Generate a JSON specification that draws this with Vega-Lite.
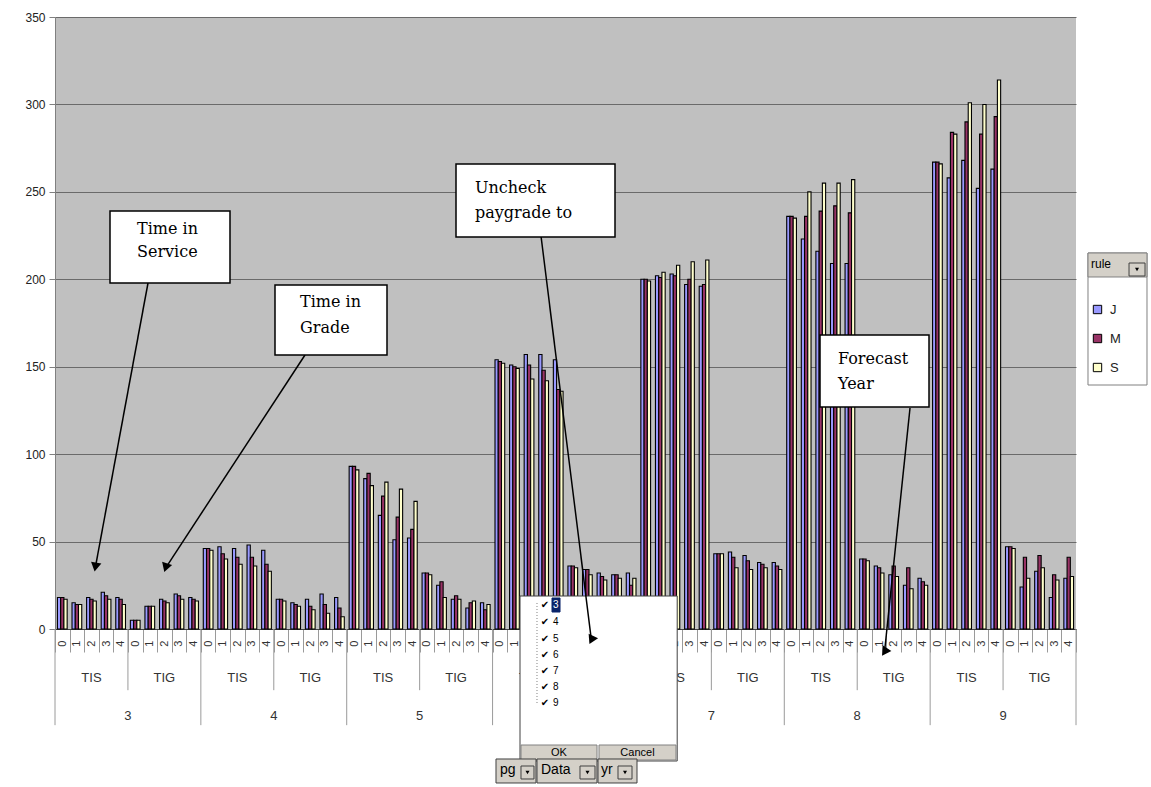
{
  "$schema": "https://vega.github.io/schema/vega-lite/v6.json",
  "width": 1021,
  "height": 612,
  "autosize": {"type": "none"},
  "padding": {"left": 55, "top": 17, "right": 75, "bottom": 158},
  "background": "white",
  "config": {
    "view": {"fill": "#c0c0c0", "stroke": null},
    "font": "Liberation Sans"
  },
  "datasets": {
    "bars": [
      {"pg":3,"Data":"TIS","yr":0,"rule":"J","v":18},{"pg":3,"Data":"TIS","yr":0,"rule":"M","v":18},{"pg":3,"Data":"TIS","yr":0,"rule":"S","v":17},
      {"pg":3,"Data":"TIS","yr":1,"rule":"J","v":15},{"pg":3,"Data":"TIS","yr":1,"rule":"M","v":14},{"pg":3,"Data":"TIS","yr":1,"rule":"S","v":14},
      {"pg":3,"Data":"TIS","yr":2,"rule":"J","v":18},{"pg":3,"Data":"TIS","yr":2,"rule":"M","v":17},{"pg":3,"Data":"TIS","yr":2,"rule":"S","v":16},
      {"pg":3,"Data":"TIS","yr":3,"rule":"J","v":21},{"pg":3,"Data":"TIS","yr":3,"rule":"M","v":19},{"pg":3,"Data":"TIS","yr":3,"rule":"S","v":17},
      {"pg":3,"Data":"TIS","yr":4,"rule":"J","v":18},{"pg":3,"Data":"TIS","yr":4,"rule":"M","v":17},{"pg":3,"Data":"TIS","yr":4,"rule":"S","v":14},
      {"pg":3,"Data":"TIG","yr":0,"rule":"J","v":5},{"pg":3,"Data":"TIG","yr":0,"rule":"M","v":5},{"pg":3,"Data":"TIG","yr":0,"rule":"S","v":5},
      {"pg":3,"Data":"TIG","yr":1,"rule":"J","v":13},{"pg":3,"Data":"TIG","yr":1,"rule":"M","v":13},{"pg":3,"Data":"TIG","yr":1,"rule":"S","v":13},
      {"pg":3,"Data":"TIG","yr":2,"rule":"J","v":17},{"pg":3,"Data":"TIG","yr":2,"rule":"M","v":16},{"pg":3,"Data":"TIG","yr":2,"rule":"S","v":15},
      {"pg":3,"Data":"TIG","yr":3,"rule":"J","v":20},{"pg":3,"Data":"TIG","yr":3,"rule":"M","v":19},{"pg":3,"Data":"TIG","yr":3,"rule":"S","v":17},
      {"pg":3,"Data":"TIG","yr":4,"rule":"J","v":18},{"pg":3,"Data":"TIG","yr":4,"rule":"M","v":17},{"pg":3,"Data":"TIG","yr":4,"rule":"S","v":16},
      {"pg":4,"Data":"TIS","yr":0,"rule":"J","v":46},{"pg":4,"Data":"TIS","yr":0,"rule":"M","v":46},{"pg":4,"Data":"TIS","yr":0,"rule":"S","v":45},
      {"pg":4,"Data":"TIS","yr":1,"rule":"J","v":47},{"pg":4,"Data":"TIS","yr":1,"rule":"M","v":43},{"pg":4,"Data":"TIS","yr":1,"rule":"S","v":40},
      {"pg":4,"Data":"TIS","yr":2,"rule":"J","v":46},{"pg":4,"Data":"TIS","yr":2,"rule":"M","v":41},{"pg":4,"Data":"TIS","yr":2,"rule":"S","v":37},
      {"pg":4,"Data":"TIS","yr":3,"rule":"J","v":48},{"pg":4,"Data":"TIS","yr":3,"rule":"M","v":41},{"pg":4,"Data":"TIS","yr":3,"rule":"S","v":36},
      {"pg":4,"Data":"TIS","yr":4,"rule":"J","v":45},{"pg":4,"Data":"TIS","yr":4,"rule":"M","v":37},{"pg":4,"Data":"TIS","yr":4,"rule":"S","v":33},
      {"pg":4,"Data":"TIG","yr":0,"rule":"J","v":17},{"pg":4,"Data":"TIG","yr":0,"rule":"M","v":17},{"pg":4,"Data":"TIG","yr":0,"rule":"S","v":16},
      {"pg":4,"Data":"TIG","yr":1,"rule":"J","v":15},{"pg":4,"Data":"TIG","yr":1,"rule":"M","v":14},{"pg":4,"Data":"TIG","yr":1,"rule":"S","v":13},
      {"pg":4,"Data":"TIG","yr":2,"rule":"J","v":17},{"pg":4,"Data":"TIG","yr":2,"rule":"M","v":13},{"pg":4,"Data":"TIG","yr":2,"rule":"S","v":11},
      {"pg":4,"Data":"TIG","yr":3,"rule":"J","v":20},{"pg":4,"Data":"TIG","yr":3,"rule":"M","v":14},{"pg":4,"Data":"TIG","yr":3,"rule":"S","v":9},
      {"pg":4,"Data":"TIG","yr":4,"rule":"J","v":18},{"pg":4,"Data":"TIG","yr":4,"rule":"M","v":12},{"pg":4,"Data":"TIG","yr":4,"rule":"S","v":7},
      {"pg":5,"Data":"TIS","yr":0,"rule":"J","v":93},{"pg":5,"Data":"TIS","yr":0,"rule":"M","v":93},{"pg":5,"Data":"TIS","yr":0,"rule":"S","v":91},
      {"pg":5,"Data":"TIS","yr":1,"rule":"J","v":86},{"pg":5,"Data":"TIS","yr":1,"rule":"M","v":89},{"pg":5,"Data":"TIS","yr":1,"rule":"S","v":82},
      {"pg":5,"Data":"TIS","yr":2,"rule":"J","v":65},{"pg":5,"Data":"TIS","yr":2,"rule":"M","v":76},{"pg":5,"Data":"TIS","yr":2,"rule":"S","v":84},
      {"pg":5,"Data":"TIS","yr":3,"rule":"J","v":51},{"pg":5,"Data":"TIS","yr":3,"rule":"M","v":64},{"pg":5,"Data":"TIS","yr":3,"rule":"S","v":80},
      {"pg":5,"Data":"TIS","yr":4,"rule":"J","v":52},{"pg":5,"Data":"TIS","yr":4,"rule":"M","v":57},{"pg":5,"Data":"TIS","yr":4,"rule":"S","v":73},
      {"pg":5,"Data":"TIG","yr":0,"rule":"J","v":32},{"pg":5,"Data":"TIG","yr":0,"rule":"M","v":32},{"pg":5,"Data":"TIG","yr":0,"rule":"S","v":31},
      {"pg":5,"Data":"TIG","yr":1,"rule":"J","v":25},{"pg":5,"Data":"TIG","yr":1,"rule":"M","v":27},{"pg":5,"Data":"TIG","yr":1,"rule":"S","v":18},
      {"pg":5,"Data":"TIG","yr":2,"rule":"J","v":17},{"pg":5,"Data":"TIG","yr":2,"rule":"M","v":19},{"pg":5,"Data":"TIG","yr":2,"rule":"S","v":17},
      {"pg":5,"Data":"TIG","yr":3,"rule":"J","v":12},{"pg":5,"Data":"TIG","yr":3,"rule":"M","v":15},{"pg":5,"Data":"TIG","yr":3,"rule":"S","v":16},
      {"pg":5,"Data":"TIG","yr":4,"rule":"J","v":15},{"pg":5,"Data":"TIG","yr":4,"rule":"M","v":11},{"pg":5,"Data":"TIG","yr":4,"rule":"S","v":14},
      {"pg":6,"Data":"TIS","yr":0,"rule":"J","v":154},{"pg":6,"Data":"TIS","yr":0,"rule":"M","v":153},{"pg":6,"Data":"TIS","yr":0,"rule":"S","v":152},
      {"pg":6,"Data":"TIS","yr":1,"rule":"J","v":151},{"pg":6,"Data":"TIS","yr":1,"rule":"M","v":150},{"pg":6,"Data":"TIS","yr":1,"rule":"S","v":149},
      {"pg":6,"Data":"TIS","yr":2,"rule":"J","v":157},{"pg":6,"Data":"TIS","yr":2,"rule":"M","v":151},{"pg":6,"Data":"TIS","yr":2,"rule":"S","v":143},
      {"pg":6,"Data":"TIS","yr":3,"rule":"J","v":157},{"pg":6,"Data":"TIS","yr":3,"rule":"M","v":148},{"pg":6,"Data":"TIS","yr":3,"rule":"S","v":142},
      {"pg":6,"Data":"TIS","yr":4,"rule":"J","v":154},{"pg":6,"Data":"TIS","yr":4,"rule":"M","v":137},{"pg":6,"Data":"TIS","yr":4,"rule":"S","v":136},
      {"pg":6,"Data":"TIG","yr":0,"rule":"J","v":36},{"pg":6,"Data":"TIG","yr":0,"rule":"M","v":36},{"pg":6,"Data":"TIG","yr":0,"rule":"S","v":35},
      {"pg":6,"Data":"TIG","yr":1,"rule":"J","v":34},{"pg":6,"Data":"TIG","yr":1,"rule":"M","v":34},{"pg":6,"Data":"TIG","yr":1,"rule":"S","v":31},
      {"pg":6,"Data":"TIG","yr":2,"rule":"J","v":32},{"pg":6,"Data":"TIG","yr":2,"rule":"M","v":30},{"pg":6,"Data":"TIG","yr":2,"rule":"S","v":28},
      {"pg":6,"Data":"TIG","yr":3,"rule":"J","v":31},{"pg":6,"Data":"TIG","yr":3,"rule":"M","v":31},{"pg":6,"Data":"TIG","yr":3,"rule":"S","v":29},
      {"pg":6,"Data":"TIG","yr":4,"rule":"J","v":32},{"pg":6,"Data":"TIG","yr":4,"rule":"M","v":25},{"pg":6,"Data":"TIG","yr":4,"rule":"S","v":29},
      {"pg":7,"Data":"TIS","yr":0,"rule":"J","v":200},{"pg":7,"Data":"TIS","yr":0,"rule":"M","v":200},{"pg":7,"Data":"TIS","yr":0,"rule":"S","v":199},
      {"pg":7,"Data":"TIS","yr":1,"rule":"J","v":202},{"pg":7,"Data":"TIS","yr":1,"rule":"M","v":201},{"pg":7,"Data":"TIS","yr":1,"rule":"S","v":204},
      {"pg":7,"Data":"TIS","yr":2,"rule":"J","v":203},{"pg":7,"Data":"TIS","yr":2,"rule":"M","v":202},{"pg":7,"Data":"TIS","yr":2,"rule":"S","v":208},
      {"pg":7,"Data":"TIS","yr":3,"rule":"J","v":197},{"pg":7,"Data":"TIS","yr":3,"rule":"M","v":200},{"pg":7,"Data":"TIS","yr":3,"rule":"S","v":210},
      {"pg":7,"Data":"TIS","yr":4,"rule":"J","v":196},{"pg":7,"Data":"TIS","yr":4,"rule":"M","v":197},{"pg":7,"Data":"TIS","yr":4,"rule":"S","v":211},
      {"pg":7,"Data":"TIG","yr":0,"rule":"J","v":43},{"pg":7,"Data":"TIG","yr":0,"rule":"M","v":43},{"pg":7,"Data":"TIG","yr":0,"rule":"S","v":43},
      {"pg":7,"Data":"TIG","yr":1,"rule":"J","v":44},{"pg":7,"Data":"TIG","yr":1,"rule":"M","v":41},{"pg":7,"Data":"TIG","yr":1,"rule":"S","v":35},
      {"pg":7,"Data":"TIG","yr":2,"rule":"J","v":42},{"pg":7,"Data":"TIG","yr":2,"rule":"M","v":39},{"pg":7,"Data":"TIG","yr":2,"rule":"S","v":34},
      {"pg":7,"Data":"TIG","yr":3,"rule":"J","v":38},{"pg":7,"Data":"TIG","yr":3,"rule":"M","v":37},{"pg":7,"Data":"TIG","yr":3,"rule":"S","v":35},
      {"pg":7,"Data":"TIG","yr":4,"rule":"J","v":38},{"pg":7,"Data":"TIG","yr":4,"rule":"M","v":36},{"pg":7,"Data":"TIG","yr":4,"rule":"S","v":34},
      {"pg":8,"Data":"TIS","yr":0,"rule":"J","v":236},{"pg":8,"Data":"TIS","yr":0,"rule":"M","v":236},{"pg":8,"Data":"TIS","yr":0,"rule":"S","v":235},
      {"pg":8,"Data":"TIS","yr":1,"rule":"J","v":223},{"pg":8,"Data":"TIS","yr":1,"rule":"M","v":236},{"pg":8,"Data":"TIS","yr":1,"rule":"S","v":250},
      {"pg":8,"Data":"TIS","yr":2,"rule":"J","v":216},{"pg":8,"Data":"TIS","yr":2,"rule":"M","v":239},{"pg":8,"Data":"TIS","yr":2,"rule":"S","v":255},
      {"pg":8,"Data":"TIS","yr":3,"rule":"J","v":209},{"pg":8,"Data":"TIS","yr":3,"rule":"M","v":242},{"pg":8,"Data":"TIS","yr":3,"rule":"S","v":255},
      {"pg":8,"Data":"TIS","yr":4,"rule":"J","v":209},{"pg":8,"Data":"TIS","yr":4,"rule":"M","v":238},{"pg":8,"Data":"TIS","yr":4,"rule":"S","v":257},
      {"pg":8,"Data":"TIG","yr":0,"rule":"J","v":40},{"pg":8,"Data":"TIG","yr":0,"rule":"M","v":40},{"pg":8,"Data":"TIG","yr":0,"rule":"S","v":39},
      {"pg":8,"Data":"TIG","yr":1,"rule":"J","v":36},{"pg":8,"Data":"TIG","yr":1,"rule":"M","v":35},{"pg":8,"Data":"TIG","yr":1,"rule":"S","v":32},
      {"pg":8,"Data":"TIG","yr":2,"rule":"J","v":31},{"pg":8,"Data":"TIG","yr":2,"rule":"M","v":36},{"pg":8,"Data":"TIG","yr":2,"rule":"S","v":30},
      {"pg":8,"Data":"TIG","yr":3,"rule":"J","v":25},{"pg":8,"Data":"TIG","yr":3,"rule":"M","v":35},{"pg":8,"Data":"TIG","yr":3,"rule":"S","v":23},
      {"pg":8,"Data":"TIG","yr":4,"rule":"J","v":29},{"pg":8,"Data":"TIG","yr":4,"rule":"M","v":27},{"pg":8,"Data":"TIG","yr":4,"rule":"S","v":25},
      {"pg":9,"Data":"TIS","yr":0,"rule":"J","v":267},{"pg":9,"Data":"TIS","yr":0,"rule":"M","v":267},{"pg":9,"Data":"TIS","yr":0,"rule":"S","v":266},
      {"pg":9,"Data":"TIS","yr":1,"rule":"J","v":258},{"pg":9,"Data":"TIS","yr":1,"rule":"M","v":284},{"pg":9,"Data":"TIS","yr":1,"rule":"S","v":283},
      {"pg":9,"Data":"TIS","yr":2,"rule":"J","v":268},{"pg":9,"Data":"TIS","yr":2,"rule":"M","v":290},{"pg":9,"Data":"TIS","yr":2,"rule":"S","v":301},
      {"pg":9,"Data":"TIS","yr":3,"rule":"J","v":252},{"pg":9,"Data":"TIS","yr":3,"rule":"M","v":283},{"pg":9,"Data":"TIS","yr":3,"rule":"S","v":300},
      {"pg":9,"Data":"TIS","yr":4,"rule":"J","v":263},{"pg":9,"Data":"TIS","yr":4,"rule":"M","v":293},{"pg":9,"Data":"TIS","yr":4,"rule":"S","v":314},
      {"pg":9,"Data":"TIG","yr":0,"rule":"J","v":47},{"pg":9,"Data":"TIG","yr":0,"rule":"M","v":47},{"pg":9,"Data":"TIG","yr":0,"rule":"S","v":46},
      {"pg":9,"Data":"TIG","yr":1,"rule":"J","v":24},{"pg":9,"Data":"TIG","yr":1,"rule":"M","v":41},{"pg":9,"Data":"TIG","yr":1,"rule":"S","v":29},
      {"pg":9,"Data":"TIG","yr":2,"rule":"J","v":33},{"pg":9,"Data":"TIG","yr":2,"rule":"M","v":42},{"pg":9,"Data":"TIG","yr":2,"rule":"S","v":35},
      {"pg":9,"Data":"TIG","yr":3,"rule":"J","v":18},{"pg":9,"Data":"TIG","yr":3,"rule":"M","v":31},{"pg":9,"Data":"TIG","yr":3,"rule":"S","v":28},
      {"pg":9,"Data":"TIG","yr":4,"rule":"J","v":29},{"pg":9,"Data":"TIG","yr":4,"rule":"M","v":41},{"pg":9,"Data":"TIG","yr":4,"rule":"S","v":30}
    ],
    "panels": [
      {"part":"popup","u":31.881,"u2":42.658,"v":18.87,"v2":-75.49},
      {"part":"button","u":31.949,"u2":37.16,"v":-66.34,"v2":-74.92},
      {"part":"button","u":37.297,"u2":42.576,"v":-66.34,"v2":-74.92},
      {"part":"field","u":30.235,"u2":32.977,"v":-74.34,"v2":-88.07},
      {"part":"field","u":33.046,"u2":37.16,"v":-74.34,"v2":-88.07},
      {"part":"field","u":37.229,"u2":39.903,"v":-74.34,"v2":-88.07},
      {"part":"drop","u":31.949,"u2":32.84,"v":-78.35,"v2":-85.78},
      {"part":"drop","u":35.994,"u2":37.023,"v":-78.35,"v2":-85.78},
      {"part":"drop","u":38.6,"u2":39.56,"v":-78.35,"v2":-85.78},
      {"part":"legendbox","u":70.822,"u2":74.867,"v":215.03,"v2":139.54},
      {"part":"legendhead","u":70.822,"u2":74.867,"v":215.03,"v2":201.31},
      {"part":"drop","u":73.635,"u2":74.732,"v":209.31,"v2":201.88},
      {"part":"sel","u":34.075,"u2":34.624,"v":17.73,"v2":9.72},
      {"part":"note","u":3.771,"u2":11.998,"v":239.05,"v2":197.88},
      {"part":"note","u":15.083,"u2":22.762,"v":196.73,"v2":156.7},
      {"part":"note","u":27.493,"u2":38.394,"v":265.93,"v2":224.18},
      {"part":"note","u":52.449,"u2":59.922,"v":168.14,"v2":126.96}
    ],
    "labels": [
      {"kind":"note","text":"Time in","u":5.622,"v":228.7},
      {"kind":"note","text":"Service","u":5.622,"v":215.6},
      {"kind":"note","text":"Time in","u":16.797,"v":187.0},
      {"kind":"note","text":"Grade","u":16.797,"v":172.1},
      {"kind":"note","text":"Uncheck","u":28.795,"v":252.0},
      {"kind":"note","text":"paygrade to","u":28.795,"v":237.7},
      {"kind":"note","text":"Forecast","u":53.68,"v":154.4},
      {"kind":"note","text":"Year","u":53.68,"v":140.1},
      {"kind":"btn","text":"OK","u":34.554,"v":-70.92},
      {"kind":"btn","text":"Cancel","u":39.936,"v":-70.92},
      {"kind":"field","text":"pg","u":30.509,"v":-80.64},
      {"kind":"field","text":"Data","u":33.32,"v":-80.64},
      {"kind":"field","text":"yr","u":37.434,"v":-80.64},
      {"kind":"selitem","text":"3","u":34.143,"v":13.73},
      {"kind":"item","text":"4","u":34.143,"v":4.0},
      {"kind":"item","text":"5","u":34.143,"v":-5.72},
      {"kind":"item","text":"6","u":34.143,"v":-14.87},
      {"kind":"item","text":"7","u":34.143,"v":-24.02},
      {"kind":"item","text":"8","u":34.143,"v":-33.17},
      {"kind":"item","text":"9","u":34.143,"v":-42.32},
      {"kind":"check","text":"✔","u":33.594,"v":13.73},
      {"kind":"check","text":"✔","u":33.594,"v":4.0},
      {"kind":"check","text":"✔","u":33.594,"v":-5.72},
      {"kind":"check","text":"✔","u":33.594,"v":-14.87},
      {"kind":"check","text":"✔","u":33.594,"v":-24.02},
      {"kind":"check","text":"✔","u":33.594,"v":-33.17},
      {"kind":"check","text":"✔","u":33.594,"v":-42.32}
    ],
    "drops": [
      {"u":32.395,"v":-82.07},
      {"u":36.508,"v":-82.07},
      {"u":39.08,"v":-82.07},
      {"u":74.183,"v":205.6}
    ],
    "arrows": [
      {"id":"service","u":6.376,"v":197.88,"u2":2.77,"v2":35.4},
      {"id":"grade","u":17.14,"v":156.7,"u2":7.59,"v2":35.0},
      {"id":"paygrade","u":33.32,"v":224.76,"u2":36.775,"v2":-6.29},
      {"id":"year","u":58.62,"v":126.39,"u2":56.871,"v2":-13.15}
    ]
  },
  "resolve": {"scale": {"x": "independent"}},
  "layer": [
    {
      "layer": [
        {
          "data": {"name": "bars"},
          "transform": [{"calculate": "datum.pg + '|' + datum.Data + '|' + datum.yr", "as": "key"}],
          "mark": {"type": "bar", "stroke": "#000", "strokeWidth": 1.1},
          "encoding": {
            "x": {
              "field": "key", "type": "nominal", "sort": null,
              "scale": {"paddingInner": 0, "paddingOuter": 0},
              "axis": {
                "title": null, "grid": false, "tickBand": "extent", "tickSize": 23,
                "tickColor": "#9a9a9a", "domainColor": "#404040",
                "labelExpr": "split(datum.value, '|')[2]", "labelAngle": -90,
                "labelFontSize": 11, "labelColor": "#333", "labelPadding": -12
              }
            },
            "xOffset": {"field": "rule", "type": "nominal", "scale": {"paddingInner": 0, "paddingOuter": 0.75}},
            "y": {
              "field": "v", "type": "quantitative",
              "scale": {"domain": [0, 350], "nice": false},
              "axis": {
                "title": null, "values": [0, 50, 100, 150, 200, 250, 300, 350],
                "grid": true, "gridColor": "#6a6a6a", "gridWidth": 1.2,
                "domainColor": "#808080", "tickColor": "#808080", "tickSize": 6,
                "labelFontSize": 12, "labelColor": "#222", "labelPadding": 4
              }
            },
            "color": {
              "field": "rule", "type": "nominal",
              "scale": {"domain": ["J", "M", "S"], "range": ["#9999FF", "#993366", "#FFFFCC"]},
              "legend": {
                "title": "rule", "orient": "none", "legendX": 1036, "legendY": 242,
                "titleFontSize": 12, "titleFontWeight": "normal", "titleColor": "#000",
                "titlePadding": 32, "labelFontSize": 13, "labelColor": "#222",
                "rowPadding": 15, "symbolType": "square", "symbolSize": 70,
                "symbolStrokeColor": "#000", "symbolStrokeWidth": 1,
                "padding": 0, "labelOffset": 6
              }
            }
          }
        },
        {
          "data": {"name": "bars"},
          "transform": [
            {"calculate": "datum.pg + '|' + datum.Data + '|' + datum.yr", "as": "key"},
            {"filter": "datum.Data == 'TIG' && datum.yr == 0 && datum.rule == 'J'"}
          ],
          "mark": {"type": "rule", "color": "#9a9a9a", "strokeWidth": 1},
          "encoding": {
            "x": {"field": "key", "type": "nominal", "sort": null, "bandPosition": 0},
            "y": {"datum": 0, "type": "quantitative"},
            "y2": {"datum": -35}
          }
        },
        {
          "data": {"name": "bars"},
          "transform": [
            {"calculate": "datum.pg + '|' + datum.Data + '|' + datum.yr", "as": "key"},
            {"filter": "datum.Data == 'TIS' && datum.yr == 0 && datum.rule == 'J'"}
          ],
          "mark": {"type": "rule", "color": "#9a9a9a", "strokeWidth": 1},
          "encoding": {
            "x": {"field": "key", "type": "nominal", "sort": null, "bandPosition": 0},
            "y": {"datum": 0, "type": "quantitative"},
            "y2": {"datum": -55}
          }
        },
        {
          "data": {"name": "bars"},
          "transform": [
            {"calculate": "datum.pg + '|' + datum.Data + '|' + datum.yr", "as": "key"},
            {"filter": "datum.pg == 9 && datum.Data == 'TIG' && datum.yr == 4 && datum.rule == 'J'"}
          ],
          "mark": {"type": "rule", "color": "#9a9a9a", "strokeWidth": 1},
          "encoding": {
            "x": {"field": "key", "type": "nominal", "sort": null, "bandPosition": 1},
            "y": {"datum": 0, "type": "quantitative"},
            "y2": {"datum": -55}
          }
        },
        {
          "data": {"name": "bars"},
          "transform": [
            {"calculate": "datum.pg + '|' + datum.Data + '|' + datum.yr", "as": "key"},
            {"filter": "datum.yr == 2 && datum.rule == 'M'"}
          ],
          "mark": {"type": "text", "fontSize": 13, "color": "#333", "baseline": "middle"},
          "encoding": {
            "x": {"field": "key", "type": "nominal", "sort": null},
            "y": {"datum": -28, "type": "quantitative"},
            "text": {"field": "Data"}
          }
        },
        {
          "data": {"name": "bars"},
          "transform": [
            {"calculate": "datum.pg + '|' + datum.Data + '|' + datum.yr", "as": "key"},
            {"filter": "datum.Data == 'TIG' && datum.yr == 0 && datum.rule == 'J'"}
          ],
          "mark": {"type": "text", "fontSize": 13, "color": "#333", "baseline": "middle"},
          "encoding": {
            "x": {"field": "key", "type": "nominal", "sort": null, "bandPosition": 0},
            "y": {"datum": -49.5, "type": "quantitative"},
            "text": {"field": "pg"}
          }
        }
      ]
    },
    {
      "layer": [
        {
          "data": {"name": "panels"},
          "transform": [{"filter": "datum.part != 'note'"}],
          "mark": {"type": "rect", "strokeWidth": 1},
          "encoding": {
            "x": {"field": "u", "type": "quantitative", "scale": {"domain": [0, 70], "nice": false, "zero": false},
                  "axis": {"orient": "top", "domain": false, "ticks": false, "labels": false, "grid": false, "title": null}},
            "x2": {"field": "u2"},
            "y": {"field": "v", "type": "quantitative"},
            "y2": {"field": "v2"},
            "fill": {
              "field": "part", "type": "nominal", "legend": null,
              "scale": {"domain": ["popup", "button", "field", "drop", "legendbox", "legendhead", "sel"],
                        "range": ["#ffffff", "#d4d0c8", "#d4d0c8", "#d4d0c8", "#ffffff", "#d4d0c8", "#0a246a"]}
            },
            "stroke": {
              "field": "part", "type": "nominal", "legend": null,
              "scale": {"domain": ["popup", "button", "field", "drop", "legendbox", "legendhead", "sel"],
                        "range": ["#404040", "#808080", "#404040", "#404040", "#808080", "#808080", "#0a246a"]}
            }
          }
        },
        {
          "data": {"values": [{"u": 33.046, "v": 14.87, "v2": -42.32}]},
          "mark": {"type": "rule", "color": "#808080", "strokeDash": [1, 2]},
          "encoding": {
            "x": {"field": "u", "type": "quantitative"},
            "y": {"field": "v", "type": "quantitative"},
            "y2": {"field": "v2"}
          }
        },
        {
          "data": {"name": "drops"},
          "mark": {"type": "point", "shape": "triangle-down", "filled": true, "size": 16, "color": "#000", "opacity": 1},
          "encoding": {
            "x": {"field": "u", "type": "quantitative"},
            "y": {"field": "v", "type": "quantitative"}
          }
        },
        {
          "data": {"name": "arrows"},
          "mark": {"type": "rule", "color": "#000", "strokeWidth": 1.5},
          "encoding": {
            "x": {"field": "u", "type": "quantitative"},
            "y": {"field": "v", "type": "quantitative"},
            "x2": {"field": "u2"},
            "y2": {"field": "v2"}
          }
        },
        {
          "data": {"name": "arrows"},
          "mark": {"type": "point", "shape": "triangle-down", "filled": true, "size": 110, "color": "#000", "opacity": 1},
          "encoding": {
            "x": {"field": "u2", "type": "quantitative"},
            "y": {"field": "v2", "type": "quantitative"},
            "angle": {
              "field": "id", "type": "nominal", "legend": null,
              "scale": {"domain": ["service", "grade", "paygrade", "year"], "range": [10.5, 33.2, -7.1, 5.9]}
            }
          }
        },
        {
          "data": {"name": "panels"},
          "transform": [{"filter": "datum.part == 'note'"}],
          "mark": {"type": "rect", "fill": "#ffffff", "stroke": "#000", "strokeWidth": 1.5},
          "encoding": {
            "x": {"field": "u", "type": "quantitative"},
            "x2": {"field": "u2"},
            "y": {"field": "v", "type": "quantitative"},
            "y2": {"field": "v2"}
          }
        },
        {
          "data": {"name": "labels"},
          "transform": [{"filter": "datum.kind == 'note'"}],
          "mark": {"type": "text", "font": "DejaVu Serif", "fontSize": 16, "align": "left", "baseline": "middle", "color": "#000"},
          "encoding": {
            "x": {"field": "u", "type": "quantitative"},
            "y": {"field": "v", "type": "quantitative"},
            "text": {"field": "text"}
          }
        },
        {
          "data": {"name": "labels"},
          "transform": [{"filter": "datum.kind == 'btn'"}],
          "mark": {"type": "text", "fontSize": 11, "align": "center", "baseline": "middle", "color": "#000"},
          "encoding": {
            "x": {"field": "u", "type": "quantitative"},
            "y": {"field": "v", "type": "quantitative"},
            "text": {"field": "text"}
          }
        },
        {
          "data": {"name": "labels"},
          "transform": [{"filter": "datum.kind == 'field'"}],
          "mark": {"type": "text", "fontSize": 14, "align": "left", "baseline": "middle", "color": "#000"},
          "encoding": {
            "x": {"field": "u", "type": "quantitative"},
            "y": {"field": "v", "type": "quantitative"},
            "text": {"field": "text"}
          }
        },
        {
          "data": {"name": "labels"},
          "transform": [{"filter": "datum.kind == 'item'"}],
          "mark": {"type": "text", "fontSize": 10, "align": "left", "baseline": "middle", "color": "#000"},
          "encoding": {
            "x": {"field": "u", "type": "quantitative"},
            "y": {"field": "v", "type": "quantitative"},
            "text": {"field": "text"}
          }
        },
        {
          "data": {"name": "labels"},
          "transform": [{"filter": "datum.kind == 'selitem'"}],
          "mark": {"type": "text", "fontSize": 10, "align": "left", "baseline": "middle", "color": "#fff"},
          "encoding": {
            "x": {"field": "u", "type": "quantitative"},
            "y": {"field": "v", "type": "quantitative"},
            "text": {"field": "text"}
          }
        },
        {
          "data": {"name": "labels"},
          "transform": [{"filter": "datum.kind == 'check'"}],
          "mark": {"type": "text", "font": "DejaVu Sans", "fontSize": 10, "align": "center", "baseline": "middle", "color": "#000"},
          "encoding": {
            "x": {"field": "u", "type": "quantitative"},
            "y": {"field": "v", "type": "quantitative"},
            "text": {"field": "text"}
          }
        }
      ]
    }
  ]
}
